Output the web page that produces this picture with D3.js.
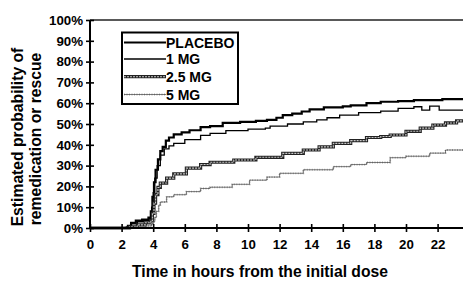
<html>
<head>
<script src='https://d3js.org/d3.v7.min.js'></script>
<style>
body {margin:0; background:white;}
svg text {font-family: "Liberation Sans", Arial, sans-serif; font-weight: bold; fill: black;}
</style>
</head>
<body>
<svg width=463 height=285></svg>
<script>
// hours, percent
var placebo = [[0,0],[2.2,0],[2.4,1],[2.6,2.5],[2.9,3.5],[3.3,4],[3.7,5],[3.85,8],[3.95,15],[4.05,22],[4.15,28],[4.3,33],[4.45,37],[4.6,39],[4.8,42],[5.0,43.5],[5.3,45],[5.8,46],[6.3,47],[7.0,48.5],[7.6,49],[8.4,50.5],[9.5,51],[10.5,51.5],[11.2,52],[11.8,53],[12.2,54.3],[12.8,55],[13.4,56],[13.9,57],[14.8,58],[16.0,58.5],[16.5,59],[17.5,60],[18.4,60.7],[19.5,61],[20.5,61.5],[22.3,62],[24,62]];
var mg1 = [[0,0],[2.1,0],[2.3,0.5],[2.6,2],[3.0,3],[3.4,3.5],[3.75,4.5],[3.9,10],[4.0,17],[4.1,24],[4.25,30],[4.45,35],[4.7,38],[5.0,39.5],[5.3,40.7],[6.0,42.5],[7.0,44.5],[7.6,45.5],[8.6,46.8],[10.0,47.5],[11.1,48],[11.4,49],[12.5,50],[13.5,51],[14.35,52],[15.0,53],[15.8,54.3],[17.0,55.5],[18.4,56.2],[19.5,57.5],[20.5,58.3],[21.0,56.7],[21.5,58.6],[22.1,56.7],[24,56.7]];
var mg25 = [[0,0],[2.0,0],[2.5,0.5],[3.0,1.5],[3.5,2.5],[3.85,3.5],[3.95,7],[4.05,12],[4.15,16],[4.3,19.5],[4.45,21.6],[4.85,24],[5.3,26],[6.1,28.8],[7.0,30.5],[7.6,31.6],[9.1,32.7],[10.5,34],[12.2,35.9],[13.5,37.5],[14.5,39],[15.4,40.7],[16.5,42],[17.5,43.5],[18.4,44],[19.0,44.7],[20.0,46.5],[20.9,48],[21.7,49.5],[22.5,50.5],[23.2,51.5],[24,52]];
var mg5 = [[0,0],[2.5,0],[3.0,0.5],[3.5,1],[3.9,2],[4.0,3],[4.1,5],[4.2,8],[4.35,11],[4.45,12.5],[4.85,15],[5.3,16],[6.1,17.5],[7.0,19],[7.6,19.6],[9.0,21],[10.1,23],[11.2,24.5],[12.0,26.3],[13.5,28],[15.4,29.5],[16.5,30.5],[17.5,31.5],[19.0,33.8],[20.0,34.5],[21.5,36],[22.5,37.5],[24,38.6]];

var legendNames = ["PLACEBO", "1 MG", "2.5 MG", "5 MG"];
var xTicks = [0,2,4,6,8,10,12,14,16,18,20,22];
var yTicks = [0,10,20,30,40,50,60,70,80,90,100];

var plotLeft = 90, plotTop = 20, plotBottom = 228;
var xScale = d3.scaleLinear().domain([0,24]).range([plotLeft, plotLeft + 24*15.8]);
var yScale = d3.scaleLinear().domain([0,100]).range([plotBottom, plotTop]);

var svg = d3.select("svg");

var line = d3.line()
    .x(function(d) {return xScale(d[0]);})
    .y(function(d) {return yScale(d[1]);})
    .curve(d3.curveStepAfter);

// series styles: each is a list of stroke layers
var styles = [
  [{stroke:"#000", w:2.2}],
  [{stroke:"#000", w:1.3}],
  [{stroke:"#222", w:3.2}, {stroke:"#c8c8c8", w:1.1, dash:"2,1"}],
  [{stroke:"#aaa", w:1.8, dash:"1,1.5"}, {stroke:"#444", w:0.7}]
];
var series = [placebo, mg1, mg25, mg5];

var plot = svg.append("g");
series.forEach(function(s, i) {
  styles[i].forEach(function(st) {
    plot.append("path")
      .datum(s)
      .attr("d", line)
      .attr("fill", "none")
      .attr("stroke", st.stroke)
      .attr("stroke-width", st.w)
      .attr("stroke-dasharray", st.dash || null);
  });
});

// top frame line
svg.append("line")
   .attr("x1", plotLeft).attr("x2", 463)
   .attr("y1", plotTop).attr("y2", plotTop)
   .attr("stroke", "#222").attr("stroke-width", 1.5);

// axes (outer ticks with labels, plus inner ticks)
var yAxis = d3.axisLeft(yScale).tickValues(yTicks).tickSize(4).tickPadding(3)
    .tickFormat(function(d) {return d + "%";});
var yInner = d3.axisRight(yScale).tickValues(yTicks).tickSize(4).tickFormat("");
var xAxis = d3.axisBottom(xScale).tickValues(xTicks).tickSize(4).tickPadding(8);
var xInner = d3.axisTop(xScale).tickValues(xTicks).tickSize(4).tickFormat("");

var gy = svg.append("g").attr("transform","translate("+plotLeft+",0)").call(yAxis);
svg.append("g").attr("transform","translate("+plotLeft+",0)").call(yInner);
var gx = svg.append("g").attr("transform","translate(0,"+plotBottom+")").call(xAxis);
svg.append("g").attr("transform","translate(0,"+plotBottom+")").call(xInner);

svg.selectAll(".domain").remove();
svg.selectAll(".tick line").attr("stroke","#000").attr("stroke-width",1.6);
gy.selectAll("text").style("font-size","13.3px").style("font-family","Liberation Sans, Arial").style("font-weight","bold");
gx.selectAll("text").style("font-size","13.3px").style("font-family","Liberation Sans, Arial").style("font-weight","bold");

svg.append("line").attr("x1",plotLeft).attr("x2",plotLeft).attr("y1",plotTop).attr("y2",plotBottom+1)
   .attr("stroke","#000").attr("stroke-width",2);
svg.append("line").attr("x1",plotLeft-1).attr("x2",463).attr("y1",plotBottom).attr("y2",plotBottom)
   .attr("stroke","#000").attr("stroke-width",2);

// axis titles
svg.append("text")
   .attr("x", 260).attr("y", 277)
   .attr("text-anchor","middle")
   .style("font-size","15.7px")
   .text("Time in hours from the initial dose");

svg.append("text")
   .attr("transform","translate(22.5,137) rotate(-90)")
   .attr("text-anchor","middle")
   .style("font-size","15.7px")
   .text("Estimated probability of");
svg.append("text")
   .attr("transform","translate(41,139) rotate(-90)")
   .attr("text-anchor","middle")
   .style("font-size","15.7px")
   .text("remedication or rescue");

// legend
var legY = [42.5, 59, 76.7, 94.5];
var leg = svg.append("g");
leg.append("rect")
   .attr("x",122).attr("y",32.5).attr("width",116).attr("height",71.5)
   .attr("fill","white").attr("stroke","#000").attr("stroke-width",2);
legendNames.forEach(function(name, i) {
  styles[i].forEach(function(st) {
    leg.append("line")
      .attr("x1",124).attr("x2",166)
      .attr("y1",legY[i]).attr("y2",legY[i])
      .attr("stroke",st.stroke).attr("stroke-width",st.w)
      .attr("stroke-dasharray", st.dash || null);
  });
  leg.append("text")
    .attr("x",166).attr("y",legY[i]+5)
    .style("font-size","14px")
    .text(name);
});
</script>
</body>
</html>
